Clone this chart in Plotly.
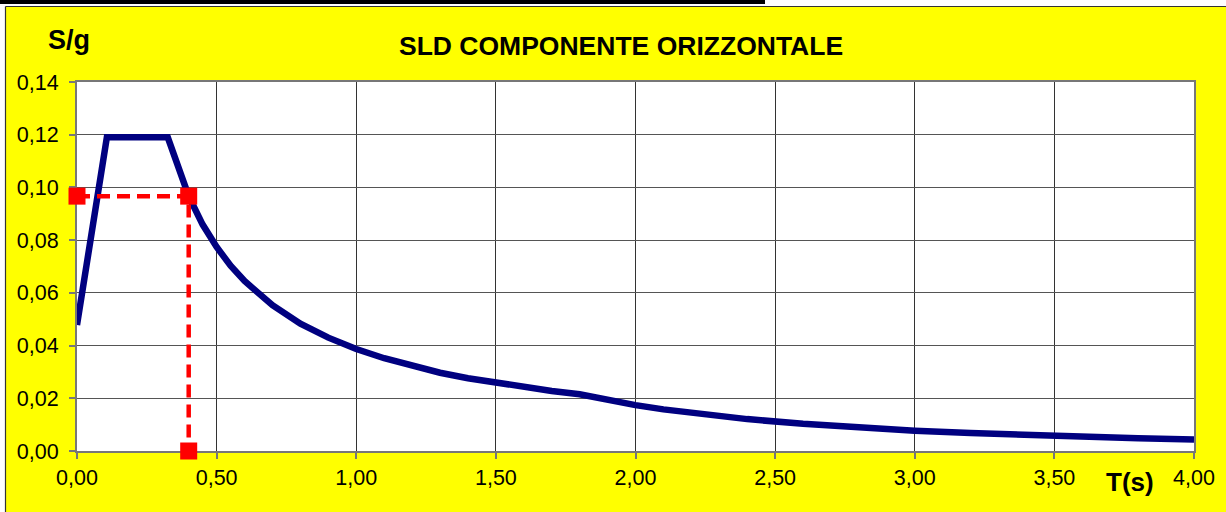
import plotly.graph_objects as go

# ---- data ----
T_spectrum = [0.00, 0.107, 0.325, 0.40, 0.45, 0.50, 0.55, 0.60, 0.70, 0.80, 0.90, 1.00,
              1.10, 1.20, 1.30, 1.40, 1.50, 1.60, 1.70, 1.80, 1.90, 2.00, 2.10, 2.20,
              2.40, 2.60, 2.80, 3.00, 3.20, 3.40, 3.60, 3.80, 4.00]
Sg_spectrum = [0.0478, 0.1190, 0.1190, 0.0967, 0.0859, 0.0774, 0.0703, 0.0645, 0.0553,
               0.0483, 0.0430, 0.0387, 0.0352, 0.0322, 0.0297, 0.0276, 0.0258, 0.0242,
               0.0228, 0.0215, 0.0193, 0.0174, 0.0158, 0.0144, 0.0121, 0.0103, 0.0089,
               0.0077, 0.0068, 0.0060, 0.0054, 0.0048, 0.0044]
T_point = [0.00, 0.40, 0.40]
Sg_point = [0.0967, 0.0967, 0.00]

x_ticks = [0, 0.5, 1.0, 1.5, 2.0, 2.5, 3.0, 3.5, 4.0]
y_ticks = [0, 0.02, 0.04, 0.06, 0.08, 0.10, 0.12, 0.14]

title_text = "SLD COMPONENTE ORIZZONTALE"
y_label = "S/g"
x_label = "T(s)"

# ---- layout geometry (pixels) ----
WIDTH, HEIGHT = 1226, 512
L, R, TOP, B = 77, 1194, 82, 451
PW, PH = R - L, B - TOP


def px(x):
    return (x - L) / PW


def py(y):
    return (B - y) / PH


FONT = "Liberation Sans, Arial, sans-serif"

fig = go.Figure()
fig.add_trace(go.Scatter(
    x=T_spectrum, y=Sg_spectrum, mode="lines",
    line=dict(color="#000080", width=6.5), showlegend=False, hoverinfo="skip"))
fig.add_trace(go.Scatter(
    x=T_point, y=Sg_point, mode="lines+markers",
    line=dict(color="#FF0000", width=4.5, dash="13px,7px"),
    marker=dict(symbol="square", size=17, color="#FF0000"),
    showlegend=False, hoverinfo="skip", cliponaxis=False))

shapes = [
    # white strip at top and left (outside the yellow frame)
    dict(type="rect", xref="paper", yref="paper", x0=px(-5), x1=px(WIDTH + 5),
         y0=py(6.5), y1=py(-5), fillcolor="white", line=dict(width=0), layer="below"),
    dict(type="rect", xref="paper", yref="paper", x0=px(-5), x1=px(5.5),
         y0=py(HEIGHT + 5), y1=py(-5), fillcolor="white", line=dict(width=0), layer="below"),
    # frame border
    dict(type="line", xref="paper", yref="paper", x0=px(5.5), x1=px(WIDTH + 5),
         y0=py(6.5), y1=py(6.5), line=dict(color="#333333", width=1.2)),
    dict(type="line", xref="paper", yref="paper", x0=px(5.5), x1=px(5.5),
         y0=py(6.5), y1=py(HEIGHT + 5), line=dict(color="#333333", width=1.2)),
    # black bar on top
    dict(type="rect", xref="paper", yref="paper", x0=px(0), x1=px(765),
         y0=py(4), y1=py(-5), fillcolor="black", line=dict(width=0)),
]

annotations = [
    dict(text="<b>%s</b>" % title_text, xref="paper", yref="paper", x=px(621), y=py(46),
         xanchor="center", yanchor="middle", showarrow=False,
         font=dict(family=FONT, size=26.5, color="black")),
    dict(text="<b>%s</b>" % y_label, xref="paper", yref="paper", x=px(69), y=py(40),
         xanchor="center", yanchor="middle", showarrow=False,
         font=dict(family=FONT, size=27, color="black")),
    dict(text="<b>%s</b>" % x_label, xref="paper", yref="paper", x=px(1130), y=py(482),
         xanchor="center", yanchor="middle", showarrow=False,
         font=dict(family=FONT, size=26, color="black")),
]

fig.update_layout(
    width=WIDTH, height=HEIGHT,
    margin=dict(l=L, r=WIDTH - R, t=TOP, b=HEIGHT - B, autoexpand=False),
    paper_bgcolor="#FFFF00", plot_bgcolor="white",
    separators=",.",
    font=dict(family=FONT, size=21.5, color="black"),
    shapes=shapes, annotations=annotations,
    xaxis=dict(range=[0, 4], tickvals=x_ticks, tickformat=".2f",
               showgrid=True, gridcolor="#333333", gridwidth=1.2,
               showline=True, linecolor="#777777", linewidth=2, mirror=True,
               ticks="outside", ticklen=6, tickcolor="#777777", tickwidth=1.5,
               tickfont=dict(family=FONT, size=21.5, color="black"),
               layer="below traces",
               zeroline=False, automargin=False, fixedrange=True),
    yaxis=dict(range=[0, 0.14], tickvals=y_ticks, tickformat=".2f",
               showgrid=True, gridcolor="#555555", gridwidth=1.2,
               showline=True, linecolor="#777777", linewidth=2, mirror=True,
               ticks="outside", ticklen=6, tickcolor="#777777", tickwidth=1.5,
               ticklabelstandoff=6,
               tickfont=dict(family=FONT, size=21.5, color="black"),
               layer="below traces",
               zeroline=False, automargin=False, fixedrange=True),
)

fig.write_html("out.html", config={"displayModeBar": False},
               post_script="document.body.style.margin='0';")
